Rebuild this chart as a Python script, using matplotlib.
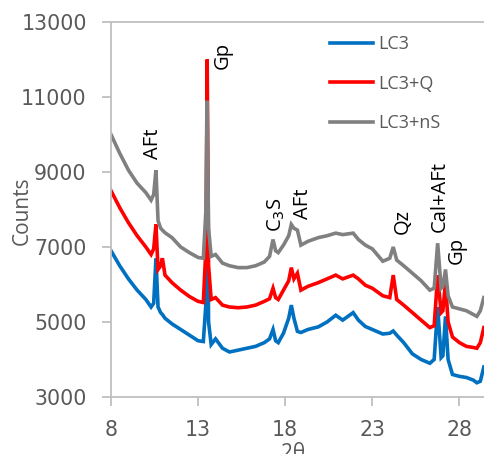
import numpy as np
import matplotlib
matplotlib.use('Agg')
import matplotlib.pyplot as plt

plt.rcParams['font.family'] = ['Open Sans', 'DejaVu Sans']

# ---- data (2theta, counts) ----
two_theta = [8.0, 8.5, 9.0, 9.5, 10.0, 10.3, 10.45, 10.58, 10.7, 10.85, 10.95, 11.1,
             11.5, 12.0, 12.5, 13.0, 13.3, 13.45, 13.52, 13.6, 13.75, 14.0, 14.4,
             14.8, 15.3, 15.8, 16.3, 16.8, 17.1, 17.3, 17.45, 17.6, 17.9, 18.2,
             18.35, 18.5, 18.7, 18.9, 19.3, 19.9, 20.4, 20.9, 21.3, 21.6, 21.9,
             22.2, 22.6, 23.0, 23.6, 24.0, 24.2, 24.4, 24.8, 25.3, 25.8, 26.3,
             26.55, 26.75, 26.95, 27.05, 27.2, 27.35, 27.6, 28.0, 28.4, 28.8,
             29.0, 29.2, 29.4]

lc3 = [6900, 6500, 6150, 5850, 5600, 5400, 5500, 6700, 5400, 5250, 5200, 5100,
       4950, 4800, 4650, 4500, 4480, 5500, 9800, 5000, 4400, 4550, 4300,
       4200, 4250, 4300, 4350, 4450, 4550, 4800, 4500, 4450, 4700, 5100,
       5450, 5100, 4750, 4720, 4800, 4870, 5000, 5180, 5050, 5150, 5250,
       5050, 4880, 4800, 4680, 4700, 4760, 4650, 4450, 4150, 4000, 3900,
       4000, 5400, 4050, 4100, 5150, 4000, 3600, 3550, 3520, 3450,
       3380, 3420, 3800]

lc3_q = [8500, 8050, 7650, 7300, 7000, 6800, 6950, 7600, 6400, 6500, 6700, 6250,
         6050, 5850, 5680, 5550, 5520, 7000, 12000, 6500, 5600, 5650, 5450,
         5400, 5380, 5400, 5450, 5550, 5620, 5900, 5650, 5600, 5850, 6100,
         6450, 6150, 6300, 5850, 5950, 6050, 6150, 6250, 6150, 6200, 6250,
         6150, 5980, 5900, 5700, 5650, 6250, 5600, 5450, 5250, 5050, 4850,
         4900, 6250, 5250, 5300, 6050, 5000, 4600, 4450, 4350, 4320,
         4300, 4450, 4850]

lc3_ns = [10000, 9500, 9050, 8700, 8450, 8250, 8400, 9050, 7700, 7500, 7450, 7380,
          7250, 7000, 6850, 6720, 6700, 8000, 10900, 7500, 6750, 6800, 6570,
          6500, 6450, 6450, 6500, 6600, 6750, 7200, 6900, 6850, 7050, 7300,
          7600, 7500, 7450, 7050, 7150, 7250, 7300, 7370, 7330, 7350, 7370,
          7200, 7050, 6950, 6620, 6700, 7000, 6650, 6500, 6300, 6100, 5850,
          5900, 7100, 5900, 5950, 6400, 5700, 5400, 5350, 5300, 5200,
          5150, 5300, 5650]

series_names = ['LC3', 'LC3+Q', 'LC3+nS']
series_colors = ['#0070C0', '#FF0000', '#808080']

# peak labels: (text, x, y)
peak_labels = [('AFt', 10.41, 9750), ('Gp', 14.43, 12120), ('C$_3$S', 17.47, 7850),
               ('AFt', 19.02, 8150), ('Qz', 24.76, 7670), ('Cal+AFt', 26.89, 8360),
               ('Gp', 27.86, 6920)]

fig = plt.figure(figsize=(4.84, 4.54), dpi=100)
ax = fig.add_axes([111/484, 57/454, 1 - 111/484, 375/454])

for vals, name, col in zip([lc3, lc3_q, lc3_ns], series_names, series_colors):
    ax.plot(two_theta, vals, color=col, lw=2.6, label=name, solid_joinstyle='miter')

ax.set_xlim(8, 29.41)
ax.set_ylim(3000, 13000)
ax.set_xticks([8, 13, 18, 23, 28])
ax.set_yticks([3000, 5000, 7000, 9000, 11000, 13000])

for s in ['left', 'bottom', 'top']:
    ax.spines[s].set_color('#bfbfbf')
    ax.spines[s].set_linewidth(1.3)
ax.spines['right'].set_visible(False)
ax.tick_params(axis='both', colors='#bfbfbf', labelcolor='#595959', labelsize=14.8,
               length=6.5, width=1.3)
ax.tick_params(axis='x', pad=10)
ax.tick_params(axis='y', pad=11)
for lab in ax.get_xticklabels() + ax.get_yticklabels():
    lab.set_family('DejaVu Sans')

for txt, x, y in peak_labels:
    ax.text(x, y, txt, rotation=90, ha='center', va='center', fontsize=14.5, color='black')

leg = ax.legend(loc='upper left', bbox_to_anchor=(219/373, 1 - 13/375), frameon=False,
                fontsize=13, handlelength=2.4, handletextpad=0.3, labelspacing=1.2,
                borderpad=0, borderaxespad=0)
for t in leg.get_texts():
    t.set_color('#595959')

fig.text(22/484, 1 - 211/454, 'Counts', rotation=90, ha='center', va='center',
         fontsize=15, color='#595959')
fig.text(293/484, 1 - 443/454, '2θ', ha='center', va='top', fontsize=15, color='#595959')

fig.savefig('out.png', dpi=100)
